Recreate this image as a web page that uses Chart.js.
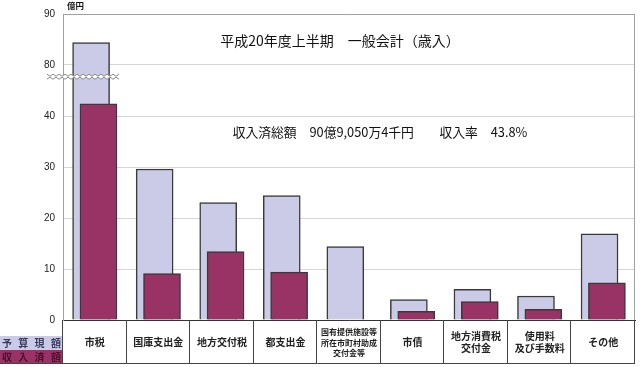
<!DOCTYPE html>
<html>
<head>
<meta charset="utf-8">
<script src="https://cdn.jsdelivr.net/npm/chart.js@4.4.0/dist/chart.umd.min.js"></script>
<style>
html, body { margin: 0; padding: 0; background: #fff; }
#wrap { width: 640px; height: 367px; position: relative; }
</style>
</head>
<body>
<div id="wrap"><canvas id="myChart"></canvas></div>
<script>
// values in 億円
const categories = ['市税', '国庫支出金', '地方交付税', '都支出金', '国有提供施設等\n所在市町村助成\n交付金等',
  '市債', '地方消費税\n交付金', '使用料\n及び手数料', 'その他'];
const budget = [84.4, 29.6, 23.0, 24.4, 14.4, 4.0, 6.0, 4.7, 16.9];
const received = [42.4, 9.1, 13.4, 9.4, 0, 1.7, 3.6, 2.1, 7.3];
const yTickLabels = ['0', '10', '20', '30', '40', '80', '90'];
const seriesNames = ['予算現額', '収入済額'];
const titleText = '平成20年度上半期　一般会計（歳入）';
const summaryText = '収入済総額　90億9,050万4千円　　収入率　43.8%';
const unitText = '億円';

const jp = '"Noto Sans CJK JP", sans-serif';
const lavender = '#cccbe7';
const maroon = '#993366';

// broken axis: the 80-90 band sits right above 40-50
const brk = v => (v < 80 ? v : v - 30);

const extras = {
  id: 'extras',
  afterDatasetsDraw(chart) {
    const ctx = chart.ctx;
    const y = chart.scales.y.getPixelForValue(47.7);
    const x0 = 47, x1 = 121;
    const up = [], dn = [];
    for (let x = x0, k = 0; x <= x1; x += 3, k++) {
      up.push([x, y - (k % 2 ? 0.5 : 2.5)]);
      dn.push([x, y + (k % 2 ? 0.5 : 2.5)]);
    }
    ctx.save();
    ctx.beginPath();
    up.forEach((p, i) => (i ? ctx.lineTo(p[0], p[1]) : ctx.moveTo(p[0], p[1])));
    dn.slice().reverse().forEach(p => ctx.lineTo(p[0], p[1]));
    ctx.closePath();
    ctx.fillStyle = '#fff';
    ctx.fill();
    ctx.strokeStyle = '#8a8a8a';
    ctx.lineWidth = 1;
    [up, dn].forEach(line => {
      ctx.beginPath();
      line.forEach((p, i) => (i ? ctx.lineTo(p[0], p[1]) : ctx.moveTo(p[0], p[1])));
      ctx.stroke();
    });
    ctx.restore();
  },
  afterDraw(chart) {
    const ctx = chart.ctx;
    const xs = chart.scales.x;
    const area = chart.chartArea;
    const tTop = area.bottom, tBot = 363;
    ctx.save();

    // right frame of the plot
    ctx.strokeStyle = '#a0a0a0';
    ctx.lineWidth = 1;
    ctx.beginPath();
    ctx.moveTo(Math.round(area.right) - 0.5, area.top);
    ctx.lineTo(Math.round(area.right) - 0.5, area.bottom);
    ctx.stroke();

    // legend cells
    ctx.fillStyle = lavender;
    ctx.fillRect(0, 336, 63, 14);
    ctx.fillStyle = maroon;
    ctx.fillRect(0, 350, 63, 13);
    ctx.font = 'bold 10px ' + jp;
    ctx.textAlign = 'center';
    ctx.textBaseline = 'middle';
    [...seriesNames[0]].forEach((ch, j) => {
      ctx.fillStyle = '#3a3a5e';
      ctx.fillText(ch, 7 + j * 16.3, 343.5);
    });
    [...seriesNames[1]].forEach((ch, j) => {
      ctx.fillStyle = '#4e0e2e';
      ctx.fillText(ch, 7 + j * 16.3, 357);
    });

    // table lines
    ctx.strokeStyle = '#444';
    ctx.lineWidth = 1;
    ctx.beginPath();
    for (let i = 0; i <= categories.length; i++) {
      const x = Math.round(xs.getPixelForValue(i - 0.5)) - 0.5;
      ctx.moveTo(x, tTop);
      ctx.lineTo(x, tBot);
    }
    ctx.moveTo(0, tBot + 0.5);
    ctx.lineTo(Math.round(area.right), tBot + 0.5);
    ctx.stroke();

    // category labels
    ctx.fillStyle = '#222';
    const cy = (tTop + tBot) / 2 + 1;
    categories.forEach((c, i) => {
      const lines = c.split('\n');
      const fs = lines.length > 2 ? 8 : 10;
      const lh = lines.length > 2 ? 10.5 : 12;
      ctx.font = 'bold ' + fs + 'px ' + jp;
      const x = xs.getPixelForValue(i);
      lines.forEach((ln, k) => {
        ctx.fillText(ln, x, cy + (k - (lines.length - 1) / 2) * lh);
      });
    });

    // titles
    ctx.fillStyle = '#111';
    ctx.font = '14px ' + jp;
    ctx.fillText(titleText, 340, 41);
    ctx.font = '12.8px ' + jp;
    ctx.fillText(summaryText, 380, 132);
    ctx.font = 'bold 8.5px ' + jp;
    ctx.textAlign = 'left';
    ctx.fillText(unitText, 67, 6);
    ctx.restore();
  }
};

const off = 0.058;
const ctx = document.getElementById('myChart').getContext('2d');
const chart = new Chart(ctx, {
  type: 'bar',
  data: {
    datasets: [{
      label: seriesNames[1],
      data: received.map((v, i) => ({ x: i + off, y: brk(v) })),
      backgroundColor: maroon,
      borderColor: '#3a3a3a',
      borderWidth: 1.5,
      barThickness: 37,
      grouped: false
    }, {
      label: seriesNames[0],
      data: budget.map((v, i) => ({ x: i - off, y: brk(v) })),
      backgroundColor: lavender,
      borderColor: '#3a3a3a',
      borderWidth: 1.5,
      barThickness: 37,
      grouped: false
    }]
  },
  options: {
    responsive: true,
    maintainAspectRatio: false,
    animation: false,
    layout: { padding: { top: 12, right: 5, left: 0, bottom: 0 } },
    plugins: { legend: { display: false }, tooltip: { enabled: false } },
    scales: {
      x: {
        type: 'linear',
        offset: false,
        min: -0.5,
        max: categories.length - 0.5,
        ticks: { display: false },
        grid: { display: false, offset: false },
        border: { color: '#333', width: 1 },
        afterFit: s => { s.height = 47; }
      },
      y: {
        min: 0,
        max: 60,
        ticks: {
          stepSize: 10,
          padding: 8,
          color: '#222',
          font: { family: '"Liberation Sans", Arial, sans-serif', size: 10 },
          callback: v => yTickLabels[v / 10]
        },
        grid: {
          drawTicks: false,
          color: c => (c.tick && c.tick.value === 60 ? '#a0a0a0' : '#d6d6d6')
        },
        border: { color: '#a0a0a0' },
        afterFit: s => { s.width = 63; }
      }
    }
  },
  plugins: [extras]
});
</script>
</body>
</html>
